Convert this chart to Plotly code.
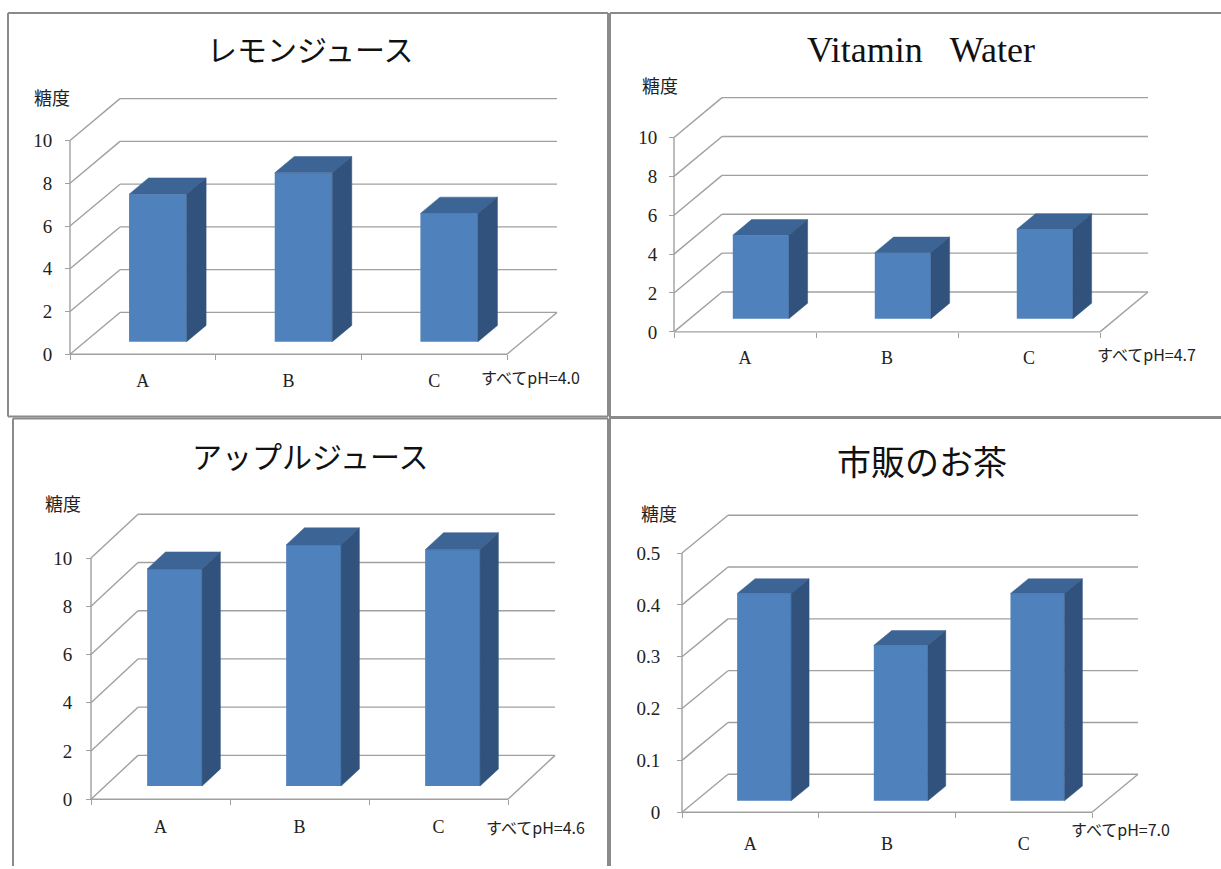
import plotly.graph_objects as go

W, H = 1221, 869

# ---------------- data ----------------
categories = ["A", "B", "C"]
titles = ["レモンジュース", "Vitamin\u00a0\u00a0\u00a0Water", "アップルジュース", "市販のお茶"]
lemon_values = [6.9, 7.9, 6.0]
vitamin_values = [4.3, 3.4, 4.6]
apple_values = [9.0, 10.0, 9.8]
tea_values = [0.4, 0.3, 0.4]
ticks_10 = [0, 2, 4, 6, 8, 10]
ticks_10_text = ["0", "2", "4", "6", "8", "10"]
ticks_05 = [0, 0.1, 0.2, 0.3, 0.4, 0.5]
ticks_05_text = ["0", "0.1", "0.2", "0.3", "0.4", "0.5"]
ph_notes = ["すべてpH=4.0", "すべてpH=4.7", "すべてpH=4.6", "すべてpH=7.0"]
y_label = "糖度"

series = [lemon_values, vitamin_values, apple_values, tea_values]
tickvals = [ticks_10, ticks_10, ticks_10, ticks_05]
ticktexts = [ticks_10_text, ticks_10_text, ticks_10_text, ticks_05_text]

# ---------------- layout (pixels) ----------------
geo = [
    dict(ox=70, oy=355.5, fr=507, ytop=141, dx=50, dy=42, z0=0.30,
         title=(310, 48, 30), ylab=(52, 97), note=(479, 378), xstand=14, ystand=9),
    dict(ox=674, oy=333, fr=1100, ytop=138, dx=48, dy=40, z0=0.33,
         title=(921, 50, 36), ylab=(660, 85), note=(1095, 355), xstand=13, ystand=8),
    dict(ox=91, oy=802, fr=508, ytop=560, dx=47, dy=44, z0=0.30,
         title=(310, 457, 30), ylab=(63, 505), note=(484, 830), xstand=15, ystand=10),
    dict(ox=682, oy=815, fr=1092, ytop=555, dx=46, dy=38, z0=0.30,
         title=(922, 462, 34), ylab=(659, 515), note=(1069, 832), xstand=19, ystand=13),
]
DEPTH = 0.39
BARW = 0.395
FRONT = "#4F81BD"
TOP = "#3C6596"
SIDE = "#30527D"
GRID = "#A0A0A0"
SERIF = "Liberation Serif, DejaVu Serif, serif"
CJK = "Noto Sans CJK JP, Noto Sans, sans-serif"

fig = go.Figure()
shapes = []
annotations = []
layout_axes = {}

for k, g in enumerate(geo):
    vals = series[k]
    tv = tickvals[k]
    ymax = tv[-1]
    sfx = "" if k == 0 else str(k + 1)
    xa, ya = "x" + sfx, "y" + sfx
    ncat = len(categories)
    cw = (g["fr"] - g["ox"]) / ncat
    ps = (g["oy"] - g["ytop"]) / ymax
    DX = g["dx"] / cw
    DY = g["dy"] / ps
    L = g["ox"] - 8
    R = g["fr"] + g["dx"] + 8
    T = g["ytop"] - g["dy"] - 8
    B = g["oy"] + 8

    layout_axes["xaxis" + sfx] = dict(
        domain=[L / W, R / W], range=[(L - g["ox"]) / cw, (R - g["ox"]) / cw],
        anchor="free", position=1 - g["oy"] / H,
        tickvals=[i + 0.5 for i in range(ncat)], ticktext=categories, ticks="",
        ticklabelstandoff=g["xstand"],
        minor=dict(tickvals=list(range(ncat + 1)), ticks="outside", ticklen=5,
                   tickcolor=GRID, tickwidth=1.3, showgrid=False),
        tickfont=dict(family=SERIF, size=18, color="#222"),
        showgrid=False, zeroline=False, showline=False, fixedrange=True,
    )
    layout_axes["yaxis" + sfx] = dict(
        domain=[1 - B / H, 1 - T / H], range=[(g["oy"] - B) / ps, (g["oy"] - T) / ps],
        anchor="free", position=g["ox"] / W,
        tickvals=tv, ticktext=ticktexts[k], ticks="outside", ticklen=5,
        tickcolor=GRID, tickwidth=1.3, ticklabelstandoff=g["ystand"],
        tickfont=dict(family=SERIF, size=19, color="#222"),
        showgrid=False, zeroline=False, showline=False, fixedrange=True,
    )

    def seg(x0, y0, x1, y1):
        shapes.append(dict(type="line", xref=xa, yref=ya, x0=x0, y0=y0, x1=x1, y1=y1,
                           layer="below", line=dict(color=GRID, width=1.4)))

    for v in tv:
        seg(0, v, DX, v + DY)
        seg(DX, v + DY, ncat + DX, v + DY)
    seg(0, 0, ncat, 0)
    seg(ncat, 0, ncat + DX, DY)
    seg(0, 0, 0, ymax)

    z0 = g["z0"]
    xc = [i + 0.5 + z0 * DX for i in range(ncat)]
    base = z0 * DY
    fig.add_trace(go.Bar(x=xc, y=vals, base=[base] * ncat, width=BARW,
                         marker=dict(color=FRONT, line=dict(width=0)),
                         xaxis=xa, yaxis=ya, hoverinfo="skip", showlegend=False))
    ddx, ddy = DEPTH * DX, DEPTH * DY
    for i, v in enumerate(vals):
        xl = xc[i] - BARW / 2
        xr = xc[i] + BARW / 2
        yt = base + v
        fig.add_trace(go.Scatter(
            x=[xl, xr, xr + ddx, xl + ddx, xl], y=[yt, yt, yt + ddy, yt + ddy, yt],
            fill="toself", fillcolor=TOP, mode="lines", line=dict(color=TOP, width=0.5),
            xaxis=xa, yaxis=ya, hoverinfo="skip", showlegend=False))
        fig.add_trace(go.Scatter(
            x=[xr, xr + ddx, xr + ddx, xr, xr], y=[base, base + ddy, yt + ddy, yt, base],
            fill="toself", fillcolor=SIDE, mode="lines", line=dict(color=SIDE, width=0.5),
            xaxis=xa, yaxis=ya, hoverinfo="skip", showlegend=False))

    tx, ty, ts = g["title"]
    annotations.append(dict(text=titles[k], xref="paper", yref="paper", x=tx / W, y=1 - ty / H,
                            xanchor="center", yanchor="middle", showarrow=False,
                            font=dict(family=(SERIF if k == 1 else CJK), size=ts, color="#111")))
    lx, ly = g["ylab"]
    annotations.append(dict(text=y_label, xref="paper", yref="paper", x=lx / W, y=1 - ly / H,
                            xanchor="center", yanchor="middle", showarrow=False,
                            font=dict(family=CJK, size=18, color="#222")))
    nx, ny = g["note"]
    annotations.append(dict(text=ph_notes[k], xref="paper", yref="paper", x=nx / W, y=1 - ny / H,
                            xanchor="left", yanchor="middle", showarrow=False,
                            font=dict(family=CJK, size=16, color="#222")))

# panel borders
BORDER = "#8A8A8A"
def pline(x0, y0, x1, y1, w=2):
    shapes.append(dict(type="line", xref="paper", yref="paper", x0=x0 / W, y0=1 - y0 / H,
                       x1=x1 / W, y1=1 - y1 / H, line=dict(color=BORDER, width=w)))

pline(8, 13, 608, 13)
pline(8, 13, 8, 418)
pline(8, 418, 608, 418)
pline(608, 13, 608, 418)
pline(610, 13, 1221, 13)
pline(610, 13, 610, 869)
pline(610, 419, 1221, 419, 3)
pline(13, 420, 608, 420)
pline(13, 420, 13, 869)
pline(608, 420, 608, 869)

fig.update_layout(
    width=W, height=H, margin=dict(l=0, r=0, t=0, b=0),
    paper_bgcolor="white", plot_bgcolor="rgba(0,0,0,0)",
    showlegend=False, shapes=shapes, annotations=annotations, **layout_axes,
)
fig.write_html("out.html")
